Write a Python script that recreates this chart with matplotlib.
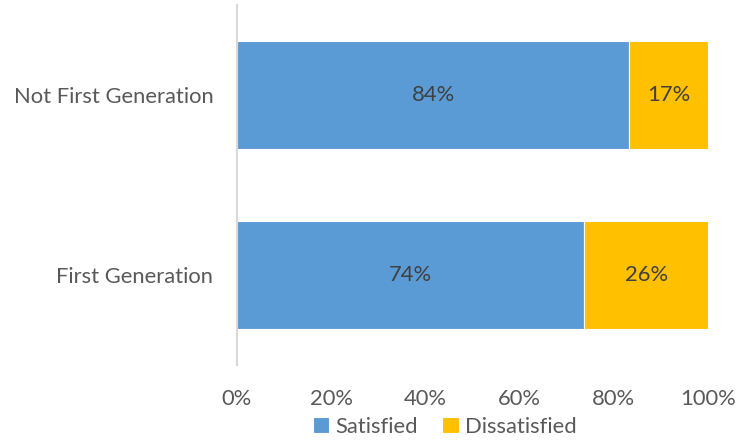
import matplotlib
matplotlib.use('Agg')
import matplotlib.pyplot as plt
import numpy as np

groups = ['First Generation', 'Not First Generation']
satisfied = [73.7, 83.3]
dissatisfied = [26.3, 16.7]
satisfiedLabels = ['74%', '84%']
dissatisfiedLabels = ['26%', '17%']
ticks = [0, 20, 40, 60, 80, 100]

plt.rcParams['font.family'] = ['Lato', 'DejaVu Sans']
textColor = '#595959'
fs = 15.8

fig = plt.figure(figsize=(7.5, 4.4), dpi=100)
ax = fig.add_axes([237/750, 1 - 365/440, (708-237)/750, 360/440])

y = np.arange(len(groups))
barsS = ax.barh(y, satisfied, height=0.595, color='#5B9BD5', edgecolor='white', linewidth=0.8, label='Satisfied')
barsD = ax.barh(y, dissatisfied, left=satisfied, height=0.595, color='#FFC000', edgecolor='white', linewidth=0.8, label='Dissatisfied')

ax.bar_label(barsS, labels=satisfiedLabels, label_type='center', fontsize=fs, color='#404040')
ax.bar_label(barsD, labels=dissatisfiedLabels, label_type='center', fontsize=fs, color='#404040')

ax.set_xlim(0, 100)
ax.set_ylim(-0.5, 1.5)
ax.set_xticks(ticks)
ax.set_xticklabels([f'{t}%' for t in ticks])
ax.set_yticks(y)
ax.set_yticklabels(groups)
ax.tick_params(axis='both', length=0, labelsize=fs, colors=textColor)
ax.tick_params(axis='x', pad=17)
ax.tick_params(axis='y', pad=17)

for s in ['top', 'right', 'bottom']:
    ax.spines[s].set_visible(False)
ax.spines['left'].set_color('#D9D9D9')
ax.spines['left'].set_linewidth(1.5)

leg = fig.legend(loc='center', bbox_to_anchor=(0.593, 1 - 427/440), ncol=2, frameon=False,
                 fontsize=fs, handlelength=0.75, handleheight=0.75, handletextpad=0.3, columnspacing=1.1)
for t in leg.get_texts():
    t.set_color(textColor)

plt.savefig('out.png', dpi=100)
plt.close('all')
